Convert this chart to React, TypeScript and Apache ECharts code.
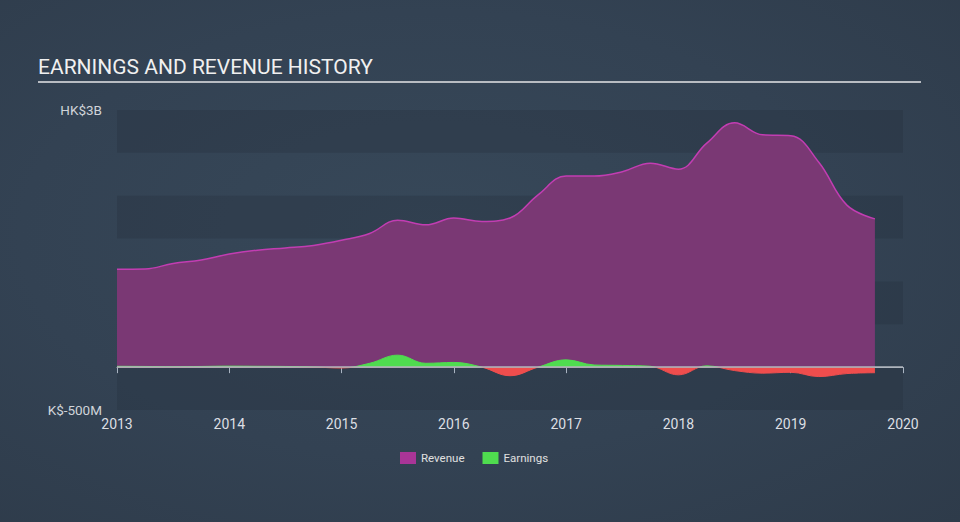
import React, { useEffect, useRef } from "react";
import * as echarts from "echarts";

const revenueYears = [2013.0, 2013.25, 2013.5, 2013.75, 2014.0, 2014.25, 2014.5, 2014.75, 2015.0, 2015.25, 2015.5, 2015.75, 2016.0, 2016.25, 2016.5, 2016.75, 2017.0, 2017.25, 2017.5, 2017.75, 2018.0, 2018.25, 2018.5, 2018.75, 2019.0, 2019.25, 2019.5, 2019.75];
const revenueValues = [1143, 1145, 1210, 1250, 1320, 1365, 1390, 1420, 1480, 1560, 1715, 1660, 1740, 1700, 1740, 2010, 2230, 2230, 2280, 2380, 2310, 2610, 2850, 2710, 2700, 2390, 1890, 1730];
const earningsValues = [10, 8, 5, 8, 12, 10, 8, 2, -10, 45, 140, 45, 55, 0, -100, 0, 85, 25, 20, 10, -90, 15, -40, -70, -60, -110, -75, -65];

const yTickValues = [-500, 3000];
const yTickLabels = ["K$-500M", "HK$3B"];

const TITLE = "EARNINGS AND REVENUE HISTORY";

export default function App() {
  const ref = useRef<HTMLDivElement>(null);
  useEffect(() => {
    if (!ref.current) return;
    const chart = echarts.init(ref.current, undefined, { renderer: "svg" });
    const rev = revenueYears.map((y, i) => [y, revenueValues[i]]);
    const earn = revenueYears.map((y, i) => [y, earningsValues[i]]);
    chart.setOption({
      animation: false,
      textStyle: { fontFamily: "Roboto" },
      title: {
        text: TITLE,
        left: 38,
        top: 56,
        padding: 0,
        textStyle: { color: "#f0f0f0", fontSize: 21, fontWeight: "normal", fontFamily: "Roboto" },
      },
      graphic: [
        {
          type: "line",
          shape: { x1: 38, y1: 82, x2: 921, y2: 82 },
          style: { stroke: "#b8bcc2", lineWidth: 2 },
        },
      ],
      legend: {
        top: 447,
        left: 395,
        icon: "rect",
        itemWidth: 16,
        itemHeight: 12,
        itemGap: 18,
        textStyle: { color: "#e0e0e0", fontSize: 11.5 },
        data: ["Revenue", "Earnings"],
      },
      grid: { left: 117, right: 57, top: 110, bottom: 112 },
      xAxis: {
        type: "value",
        min: 2013,
        max: 2020,
        interval: 1,
        axisLine: { show: true, lineStyle: { color: "#a9b4c2", width: 1 } },
        axisTick: { show: true, length: 6, lineStyle: { color: "#a9b4c2" } },
        axisLabel: { color: "#dcdfe3", fontSize: 14, margin: 7, formatter: (v: number) => String(v) },
        splitLine: { show: false },
      },
      yAxis: {
        type: "value",
        min: -500,
        max: 3000,
        interval: 500,
        axisLine: { show: false },
        axisTick: { show: false },
        splitLine: { show: false },
        splitArea: { show: true, areaStyle: { color: ["rgba(35,45,58,0.3)", "rgba(0,0,0,0)"] } },
        axisLabel: {
          color: "#d0d4d9",
          fontSize: 13.5,
          margin: 15,
          formatter: (v: number) => {
            const i = yTickValues.indexOf(v);
            return i >= 0 ? yTickLabels[i] : "";
          },
        },
      },
      visualMap: {
        show: false,
        type: "piecewise",
        seriesIndex: 1,
        dimension: 1,
        pieces: [
          { gte: -1000, lt: 0, color: "#ef4d4d" },
          { gte: 0, lte: 4000, color: "#4fdc4f" },
        ],
      },
      series: [
        {
          name: "Revenue",
          type: "line",
          data: rev,
          smooth: 0.4,
          showSymbol: false,
          symbol: "none",
          itemStyle: { color: "#a93597" },
          lineStyle: { color: "#c23db2", width: 1.5 },
          areaStyle: { color: "#7a3874", opacity: 1 },
          z: 2,
          markLine: {
            silent: true,
            symbol: "none",
            label: { show: false },
            lineStyle: { color: "#b0b6bd", type: "solid", width: 1.5 },
            data: [{ yAxis: 0 }],
          },
        },
        {
          name: "Earnings",
          type: "line",
          data: earn,
          smooth: 0.4,
          showSymbol: false,
          symbol: "none",
          itemStyle: { color: "#4fdc4f" },
          lineStyle: { width: 1 },
          areaStyle: { opacity: 1 },
          z: 3,
        },
      ],
    });
    return () => chart.dispose();
  }, []);
  return (
    <div
      style={{
        position: "absolute",
        left: 0,
        top: 0,
        width: 960,
        height: 522,
        background: "radial-gradient(ellipse at 45% 45%, #374859 0%, #334253 55%, #2e3b4a 100%)",
      }}
    >
      <div ref={ref} style={{ width: 960, height: 522 }} />
    </div>
  );
}
